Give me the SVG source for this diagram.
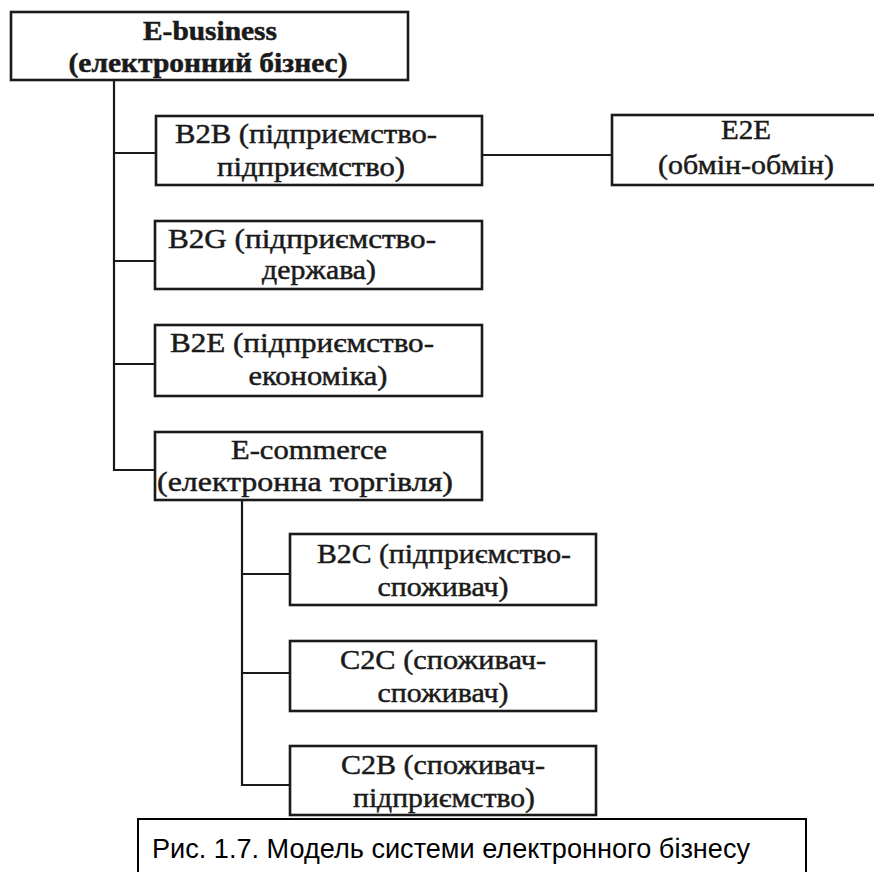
<svg xmlns="http://www.w3.org/2000/svg" width="874" height="872" viewBox="0 0 874 872">
<style>
.box{fill:#fff;stroke:#1a1a1a;stroke-width:2.6}
.t{font-family:"Liberation Serif","Times New Roman",serif;font-size:28px;fill:#1a1a1a;stroke:#1a1a1a;stroke-width:0.5;text-anchor:middle}
.b{font-weight:bold;font-size:27px}
.conn{stroke:#1a1a1a;stroke-width:2.2;fill:none}
.cap{font-family:"Liberation Sans",Arial,sans-serif;font-size:28px;fill:#000}
</style>
<rect width="874" height="872" fill="#fff"/>
<g id="connectors">
<polyline class="conn" points="114,80 114,470 156,470"/>
<line class="conn" x1="114" y1="153" x2="156" y2="153"/>
<line class="conn" x1="114" y1="261" x2="156" y2="261"/>
<line class="conn" x1="114" y1="364" x2="156" y2="364"/>
<line class="conn" x1="482" y1="155" x2="612" y2="155"/>
<polyline class="conn" points="242,500 242,785 290,785"/>
<line class="conn" x1="242" y1="574" x2="290" y2="574"/>
<line class="conn" x1="242" y1="673" x2="290" y2="673"/>
</g>
<g id="ebusiness">
<rect class="box" x="11" y="12" width="397" height="68"/>
<text class="t b" x="210" y="40" textLength="134" lengthAdjust="spacingAndGlyphs">E-business</text>
<text class="t b" x="208" y="72" textLength="279" lengthAdjust="spacingAndGlyphs">(електронний бізнес)</text>
</g>
<g id="b2b">
<rect class="box" x="156" y="116" width="326" height="69"/>
<text class="t" x="306" y="143" textLength="262" lengthAdjust="spacingAndGlyphs">B2B (підприємство-</text>
<text class="t" x="311" y="176" textLength="188" lengthAdjust="spacingAndGlyphs">підприємство)</text>
</g>
<g id="e2e">
<rect class="box" x="612" y="115" width="268" height="70"/>
<text class="t" x="746" y="139" textLength="50" lengthAdjust="spacingAndGlyphs">E2E</text>
<text class="t" x="746" y="174" textLength="176" lengthAdjust="spacingAndGlyphs">(обмін-обмін)</text>
</g>
<g id="b2g">
<rect class="box" x="155" y="221" width="327" height="68"/>
<text class="t" x="302" y="248" textLength="268" lengthAdjust="spacingAndGlyphs">B2G (підприємство-</text>
<text class="t" x="319" y="279" textLength="114" lengthAdjust="spacingAndGlyphs">держава)</text>
</g>
<g id="b2e">
<rect class="box" x="155" y="325" width="327" height="71"/>
<text class="t" x="302" y="352" textLength="264" lengthAdjust="spacingAndGlyphs">B2E (підприємство-</text>
<text class="t" x="318" y="385" textLength="139" lengthAdjust="spacingAndGlyphs">економіка)</text>
</g>
<g id="ecommerce">
<rect class="box" x="155" y="432" width="327" height="68"/>
<text class="t" x="309" y="459" textLength="156" lengthAdjust="spacingAndGlyphs">E-commerce</text>
<text class="t" x="305" y="491" textLength="296" lengthAdjust="spacingAndGlyphs">(електронна торгівля)</text>
</g>
<g id="b2c">
<rect class="box" x="290" y="534" width="306" height="71"/>
<text class="t" x="444" y="563" textLength="254" lengthAdjust="spacingAndGlyphs">B2C (підприємство-</text>
<text class="t" x="443" y="596" textLength="131" lengthAdjust="spacingAndGlyphs">споживач)</text>
</g>
<g id="c2c">
<rect class="box" x="290" y="641" width="306" height="70"/>
<text class="t" x="443" y="669" textLength="206" lengthAdjust="spacingAndGlyphs">C2C (споживач-</text>
<text class="t" x="443" y="702" textLength="131" lengthAdjust="spacingAndGlyphs">споживач)</text>
</g>
<g id="c2b">
<rect class="box" x="290" y="746" width="306" height="69"/>
<text class="t" x="443" y="774" textLength="204" lengthAdjust="spacingAndGlyphs">C2B (споживач-</text>
<text class="t" x="444" y="807" textLength="182" lengthAdjust="spacingAndGlyphs">підприємство)</text>
</g>
<g id="caption">
<rect x="138" y="819" width="668" height="70" fill="#fff" stroke="#000" stroke-width="2"/>
<text class="cap" x="152" y="858" textLength="598" lengthAdjust="spacingAndGlyphs">Рис. 1.7. Модель системи електронного бізнесу</text>
</g>
</svg>
